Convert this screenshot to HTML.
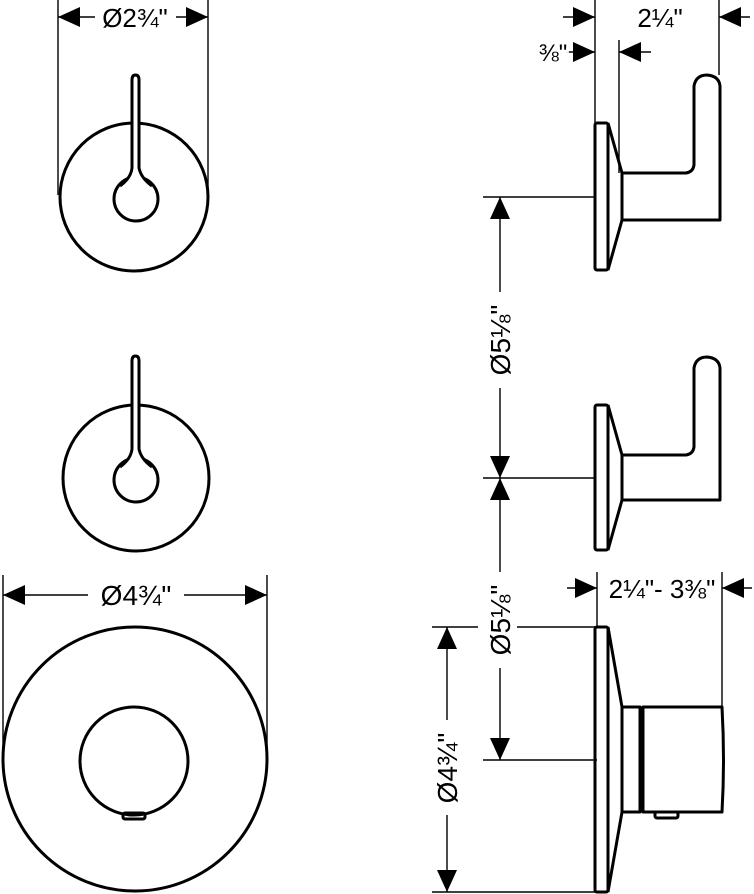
<!DOCTYPE html>
<html><head><style>
html,body{margin:0;padding:0;background:#fff;}
svg{display:block;}
text{font-family:"Liberation Sans",sans-serif;fill:#000;}
</style></head><body>
<svg width="754" height="894" viewBox="0 0 754 894" xmlns="http://www.w3.org/2000/svg">
<defs>
<path id="ar" d="M0,0 L-22,-10 L-22,10 Z" fill="#000"/>
</defs>
<g fill="none" stroke="#000" stroke-width="1.4">
  <line x1="58" y1="0" x2="58" y2="195"/>
  <line x1="208" y1="0" x2="208" y2="195"/>
  <line x1="58" y1="17" x2="95" y2="17"/>
  <line x1="176" y1="17" x2="208" y2="17"/>
  <line x1="3" y1="575" x2="3" y2="759"/>
  <line x1="267" y1="575" x2="267" y2="759"/>
  <line x1="3" y1="595" x2="88" y2="595"/>
  <line x1="184" y1="595" x2="267" y2="595"/>
  <line x1="595" y1="0" x2="595" y2="123"/>
  <line x1="619" y1="40" x2="619" y2="173"/>
  <line x1="719" y1="0" x2="719" y2="75"/>
  <line x1="563" y1="17" x2="595" y2="17"/>
  <line x1="719" y1="17" x2="750" y2="17"/>
  <line x1="566" y1="52" x2="595" y2="52"/>
  <line x1="619" y1="52" x2="651" y2="52"/>
  <line x1="483" y1="197" x2="595" y2="197"/>
  <line x1="483" y1="478" x2="595" y2="478"/>
  <line x1="500" y1="197" x2="500" y2="292"/>
  <line x1="500" y1="388" x2="500" y2="478"/>
  <line x1="500" y1="478" x2="500" y2="572"/>
  <line x1="500" y1="668" x2="500" y2="760"/>
  <line x1="483" y1="760" x2="597" y2="760"/>
  <line x1="597" y1="572" x2="597" y2="627"/>
  <line x1="722" y1="572" x2="722" y2="707"/>
  <line x1="567" y1="588" x2="597" y2="588"/>
  <line x1="722" y1="588" x2="752" y2="588"/>
  <line x1="432" y1="627" x2="478" y2="627"/>
  <line x1="517" y1="627" x2="595" y2="627"/>
  <line x1="432" y1="892" x2="595" y2="892"/>
  <line x1="447" y1="627" x2="447" y2="720"/>
  <line x1="447" y1="815" x2="447" y2="892"/>
</g>
<use href="#ar" transform="translate(58,17) rotate(180)"/>
<use href="#ar" transform="translate(208,17)"/>
<use href="#ar" transform="translate(3,595) rotate(180)"/>
<use href="#ar" transform="translate(267,595)"/>
<use href="#ar" transform="translate(595,17)"/>
<use href="#ar" transform="translate(719,17) rotate(180)"/>
<use href="#ar" transform="translate(595,52)"/>
<use href="#ar" transform="translate(619,52) rotate(180)"/>
<use href="#ar" transform="translate(500,197) rotate(-90)"/>
<use href="#ar" transform="translate(500,478) rotate(90)"/>
<use href="#ar" transform="translate(500,478) rotate(-90)"/>
<use href="#ar" transform="translate(500,760) rotate(90)"/>
<use href="#ar" transform="translate(597,588)"/>
<use href="#ar" transform="translate(722,588) rotate(180)"/>
<use href="#ar" transform="translate(447,627) rotate(-90)"/>
<use href="#ar" transform="translate(447,892) rotate(90)"/>
<g stroke="#fff" stroke-width="6" paint-order="stroke">
<text x="135" y="27" font-size="26" text-anchor="middle">Ø2¾"</text>
<text x="136" y="605" font-size="28" text-anchor="middle">Ø4¾"</text>
<text x="660" y="27" font-size="26" text-anchor="middle">2¼"</text>
<text x="553" y="61" font-size="24" text-anchor="middle">⅜"</text>
<text x="662" y="598" font-size="26" text-anchor="middle">2¼"- 3⅜"</text>
<text transform="translate(510,340) rotate(-90)" font-size="28" text-anchor="middle">Ø5⅛"</text>
<text transform="translate(510,620) rotate(-90)" font-size="28" text-anchor="middle">Ø5⅛"</text>
<text transform="translate(457,768) rotate(-90)" font-size="28" text-anchor="middle">Ø4¾"</text>
</g>
<g fill="none" stroke="#000" stroke-width="3">
  <circle cx="134" cy="197" r="74"/>
  <circle cx="136" cy="199" r="22"/>
  <circle cx="136" cy="478" r="73"/>
  <circle cx="136" cy="480" r="22"/>
  <circle cx="135" cy="759" r="132"/>
  <circle cx="134" cy="761" r="54"/>
  <rect x="123" y="813" width="22" height="6" rx="2"/>
</g>
<g fill="#fff" stroke="#000" stroke-width="3">
  <path d="M120,186 Q131,178 132,168 L132,80 Q132,75 135.5,75 Q139,75 139,80 L139,168 Q141,178 152,186"/>
  <path d="M120,467 Q131,459 132,449 L132,361 Q132,356 135.5,356 Q139,356 139,361 L139,449 Q141,459 152,467"/>
</g>
<g fill="none" stroke="#000" stroke-width="3" stroke-linejoin="round">
  <rect x="595" y="123" width="13" height="147" rx="2"/>
  <path d="M608,123 L622,173 L622,220 L608,270"/>
  <path d="M622,173 L686,173 Q693,172 694,165 L694,86 Q696,75 707,75 Q719,76 720,86 L720,220 L622,220"/>
  <rect x="595" y="405" width="13" height="145" rx="2"/>
  <path d="M608,405 L622,455 L622,500 L608,550"/>
  <path d="M622,455 L686,455 Q693,454 694,447 L694,368 Q696,357 707,357 Q719,358 720,368 L720,500 L622,500"/>
  <rect x="595" y="627" width="13" height="265" rx="2"/>
  <path d="M608,627 L622,707 L622,812 L608,892"/>
  <rect x="622" y="707" width="18" height="105"/>
  <path d="M643,707 L722,707 Q725,760 722,812 L643,812 Z"/>
  <rect x="655" y="812" width="23" height="6" rx="2"/>
</g>
</svg>
</body></html>
